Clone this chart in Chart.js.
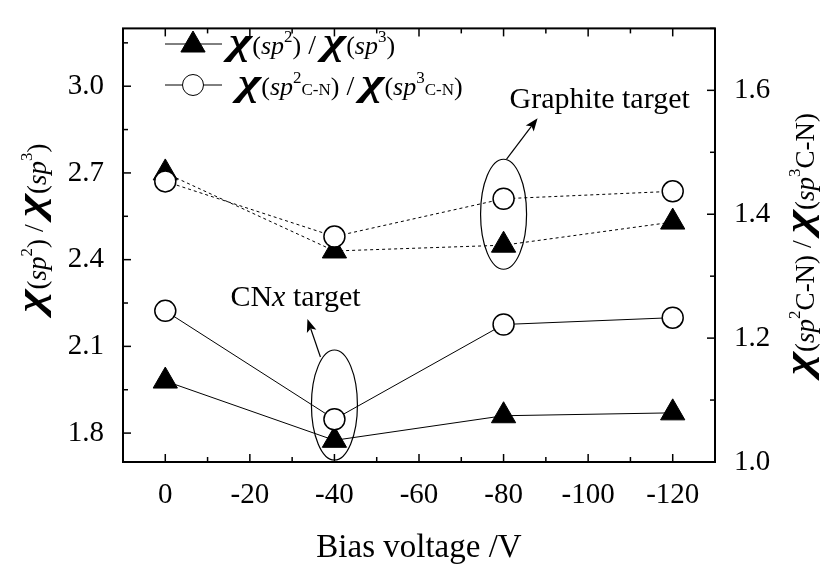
<!DOCTYPE html>
<html>
<head>
<meta charset="utf-8">
<script src="https://cdn.jsdelivr.net/npm/chart.js@4.4.1/dist/chart.umd.min.js"></script>
<style>
  html, body { margin: 0; padding: 0; background: #fff; }
</style>
</head>
<body>
<canvas id="chart" width="825" height="571"></canvas>
<script>
/* ── data ─────────────────────────────────────────────────── */
const biasVoltage = [0, -40, -80, -120];

// left axis  χ(sp2) / χ(sp3)
const graphiteRatio = [2.70, 2.43, 2.45, 2.53];
const cnxRatio      = [1.98, 1.775, 1.86, 1.87];

// right axis  χ(sp2 C-N) / χ(sp3 C-N)
const graphiteCN = [1.453, 1.364, 1.425, 1.437];
const cnxCN      = [1.244, 1.069, 1.222, 1.233];

const xTicks      = [0, -20, -40, -60, -80, -100, -120];
const yLeftTicks  = [1.8, 2.1, 2.4, 2.7, 3.0];
const yRightTicks = [1.0, 1.2, 1.4, 1.6];

const SERIF = '"Liberation Serif", "Times New Roman", serif';

function pts(ys) {
  return biasVoltage.map((x, i) => ({ x: x, y: ys[i] }));
}

function font(size, style) {
  return (style || '') + ' ' + size + 'px ' + SERIF;
}

// χ(sp^n suffix) style label as a list of text runs
function chiRuns(sup, suffix, s) {
  return [
    { t: '\u03C7', size: s.chi, style: 'italic bold', sx: 1.35 },
    { t: '(', size: s.sub, dy: s.subDy },
    { t: 'sp', size: s.sub, style: 'italic', dy: s.subDy },
    { t: sup, size: s.sup, dy: s.supDy },
    { t: suffix, size: s.suf, dy: s.subDy },
    { t: ')', size: s.sub, dy: s.subDy },
  ];
}

function ratioRuns(suffix, s) {
  return chiRuns('2', suffix, s)
    .concat([{ t: ' / ', size: s.slash }])
    .concat(chiRuns('3', suffix, s));
}

function runWidth(ctx, r) {
  ctx.font = font(r.size, r.style);
  return ctx.measureText(r.t).width * (r.sx || 1);
}

function runsWidth(ctx, runs) {
  return runs.reduce((w, r) => w + runWidth(ctx, r), 0);
}

function drawRuns(ctx, runs, x, y) {
  ctx.textAlign = 'left';
  ctx.textBaseline = 'alphabetic';
  let cx = x;
  runs.forEach(r => {
    const w = runWidth(ctx, r);
    ctx.save();
    ctx.translate(cx, y + (r.dy || 0));
    ctx.scale(r.sx || 1, 1);
    ctx.fillText(r.t, 0, 0);
    ctx.restore();
    cx += w;
  });
}

function withMinor(major, lo, hi) {
  const step = Math.abs(major[1] - major[0]);
  const out = major.map(v => ({ v: v, major: true }));
  major.forEach(v => {
    [v - step / 2, v + step / 2].forEach(m => {
      if (m >= lo - 1e-9 && m <= hi + 1e-9 && !out.some(o => Math.abs(o.v - m) < 1e-9)) {
        out.push({ v: m, major: false });
      }
    });
  });
  return out;
}

/* ── frame, inward ticks, legend, titles, annotations ─────── */
const decorations = {
  id: 'decorations',
  afterDraw(chart) {
    const { ctx, chartArea: a, scales: { x, yL, yR } } = chart;
    ctx.save();
    ctx.strokeStyle = '#000';
    ctx.fillStyle = '#000';

    const line = (x1, y1, x2, y2) => {
      ctx.beginPath(); ctx.moveTo(x1, y1); ctx.lineTo(x2, y2); ctx.stroke();
    };

    // ticks pointing into the plot
    ctx.lineWidth = 1.5;
    withMinor(xTicks, x.min, x.max).forEach(t => {
      const p = x.getPixelForValue(t.v), L = t.major ? 8 : 5;
      line(p, a.bottom, p, a.bottom - L);
      line(p, a.top, p, a.top + L);
    });
    withMinor(yLeftTicks, yL.min, yL.max).forEach(t => {
      const p = yL.getPixelForValue(t.v), L = t.major ? 8 : 5;
      line(a.left, p, a.left + L, p);
    });
    withMinor(yRightTicks, yR.min, yR.max).forEach(t => {
      const p = yR.getPixelForValue(t.v), L = t.major ? 8 : 5;
      line(a.right, p, a.right - L, p);
    });

    ctx.lineWidth = 2;
    ctx.strokeRect(a.left, a.top, a.right - a.left, a.bottom - a.top);

    // legend
    const legS = { chi: 37, sub: 26, sup: 17, suf: 17, slash: 28, subDy: 0, supDy: -12 };
    ctx.lineWidth = 1;
    line(165, 44, 222, 44);
    Chart.helpers.drawPoint(ctx, { pointStyle: 'triangle', radius: 14, borderWidth: 1 }, 193, 45);
    line(165, 85, 222, 85);
    ctx.fillStyle = '#fff';
    Chart.helpers.drawPoint(ctx, { pointStyle: 'circle', radius: 10.5, borderWidth: 1.5 }, 193, 85);
    ctx.fillStyle = '#000';
    drawRuns(ctx, ratioRuns('', legS), 229, 54);
    drawRuns(ctx, ratioRuns('C-N', legS), 238, 95);

    // axis titles
    const tS = { chi: 37, sub: 27, sup: 17, suf: 27, slash: 28, subDy: 3, supDy: -11 };
    const leftRuns = ratioRuns('', tS);
    ctx.save();
    ctx.translate(34, 228);
    ctx.rotate(-Math.PI / 2);
    drawRuns(ctx, leftRuns, -runsWidth(ctx, leftRuns) / 2, 9);
    ctx.restore();

    const rightRuns = ratioRuns('C-N', tS);
    ctx.save();
    ctx.translate(802, 244);
    ctx.rotate(-Math.PI / 2);
    drawRuns(ctx, rightRuns, -runsWidth(ctx, rightRuns) / 2, 9);
    ctx.restore();

    ctx.font = font(33);
    ctx.textAlign = 'center';
    ctx.textBaseline = 'middle';
    ctx.fillText('Bias voltage /V', (a.left + a.right) / 2, 548);

    // target annotations: ellipse round the -40 / -80 points, arrow, label
    const notes = [
      { x: -80, y: 1.40, rx: 23, ry: 55, from: [3, -55], tip: [34, -96],
        label: [{ t: 'Graphite target', size: 30 }], at: [6, -106] },
      { x: -40, y: 1.092, rx: 23, ry: 55, from: [-14, -48], tip: [-27, -86],
        label: [{ t: 'CN', size: 30 }, { t: 'x', size: 30, style: 'italic' }, { t: ' target', size: 30 }], at: [-104, -99] },
    ];
    notes.forEach(n => {
      const cx = x.getPixelForValue(n.x), cy = yR.getPixelForValue(n.y);
      ctx.lineWidth = 1.2;
      ctx.beginPath();
      ctx.ellipse(cx, cy, n.rx, n.ry, 0, 0, Math.PI * 2);
      ctx.stroke();

      const x1 = cx + n.from[0], y1 = cy + n.from[1];
      const x2 = cx + n.tip[0], y2 = cy + n.tip[1];
      const ang = Math.atan2(y2 - y1, x2 - x1);
      const hl = 13, hw = 5;
      const bx = x2 - Math.cos(ang) * hl, by = y2 - Math.sin(ang) * hl;
      line(x1, y1, bx + Math.cos(ang) * 3, by + Math.sin(ang) * 3);
      ctx.beginPath();
      ctx.moveTo(x2, y2);
      ctx.lineTo(bx - Math.sin(ang) * hw, by + Math.cos(ang) * hw);
      ctx.lineTo(bx + Math.cos(ang) * 3, by + Math.sin(ang) * 3);
      ctx.lineTo(bx + Math.sin(ang) * hw, by - Math.cos(ang) * hw);
      ctx.closePath();
      ctx.fill();

      drawRuns(ctx, n.label, cx + n.at[0], cy + n.at[1]);
    });

    ctx.restore();
  }
};

/* ── chart ─────────────────────────────────────────────────── */
const tickFont = { family: "'Liberation Serif', serif", size: 29 };

function series(data, axis, style, dashed) {
  const circle = style === 'circle';
  return {
    data: pts(data),
    yAxisID: axis,
    borderColor: '#000',
    borderWidth: 1,
    borderDash: dashed ? [3, 3] : [],
    pointStyle: style,
    pointRadius: circle ? 10.5 : 14,
    pointBorderWidth: circle ? 1.5 : 1,
    pointBackgroundColor: circle ? '#fff' : '#000',
    pointBorderColor: '#000',
    tension: 0,
    fill: false,
  };
}

new Chart(document.getElementById('chart'), {
  type: 'line',
  data: {
    // circles first so they are painted over the triangles
    datasets: [
      series(graphiteCN, 'yR', 'circle', true),
      series(cnxCN, 'yR', 'circle', false),
      series(graphiteRatio, 'yL', 'triangle', true),
      series(cnxRatio, 'yL', 'triangle', false),
    ]
  },
  options: {
    responsive: false,
    animation: false,
    layout: { padding: { top: 5, left: 0, right: 0, bottom: 0 } },
    plugins: { legend: { display: false }, tooltip: { enabled: false } },
    scales: {
      x: {
        type: 'linear', min: -130, max: 10, reverse: true,
        grid: { display: false }, border: { display: false },
        ticks: { font: tickFont, color: '#000', padding: 8, maxRotation: 0, callback: v => String(v) },
        afterBuildTicks: s => { s.ticks = xTicks.map(v => ({ value: v })); },
        afterFit: s => { s.height = 109; },
      },
      yL: {
        type: 'linear', position: 'left', min: 1.7, max: 3.2,
        grid: { display: false }, border: { display: false },
        ticks: { font: tickFont, color: '#000', padding: 11, callback: v => v.toFixed(1) },
        afterBuildTicks: s => { s.ticks = yLeftTicks.map(v => ({ value: v })); },
        afterFit: s => { s.width = 123; },
      },
      yR: {
        type: 'linear', position: 'right', min: 1.0, max: 1.7,
        grid: { display: false }, border: { display: false },
        ticks: { font: tickFont, color: '#000', padding: 11, callback: v => v.toFixed(1) },
        afterBuildTicks: s => { s.ticks = yRightTicks.map(v => ({ value: v })); },
        afterFit: s => { s.width = 110; },
      },
    },
  },
  plugins: [decorations],
});
</script>
</body>
</html>
